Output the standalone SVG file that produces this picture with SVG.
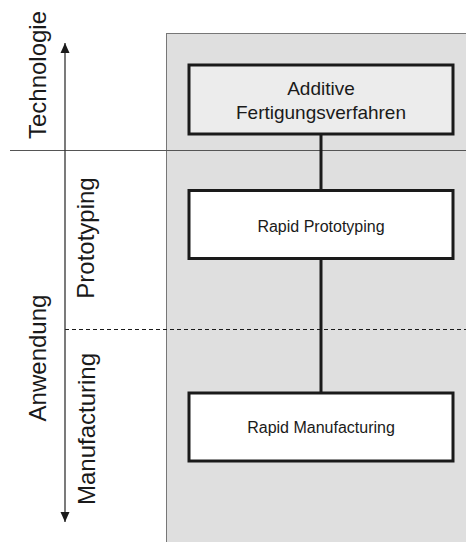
<svg xmlns="http://www.w3.org/2000/svg" width="466" height="542" viewBox="0 0 466 542">
<style>
  .lbl { font-family: "Liberation Sans", Arial, sans-serif; fill: #1a1a1a; }
  .side { font-size: 24px; text-anchor: middle; }
  .box { stroke: #1a1a1a; stroke-width: 3; }
  .btext { font-size: 16px; text-anchor: middle; }
  .conn { stroke: #1a1a1a; stroke-width: 3; fill: none; }
</style>
<defs>
  <marker id="ah" viewBox="0 0 10 14" refX="10" refY="7" markerWidth="10" markerHeight="14" markerUnits="userSpaceOnUse" orient="auto">
    <path d="M0,2.5 L10,7 L0,11.5 Z" fill="#1a1a1a"/>
  </marker>
</defs>
<rect id="panel" x="166.5" y="33.5" width="310" height="520" fill="#dfdfdf" stroke="#777" stroke-width="1"/>
<line x1="10" y1="150.5" x2="466" y2="150.5" stroke="#555" stroke-width="1"/>
<line x1="65" y1="329.5" x2="466" y2="329.5" stroke="#1a1a1a" stroke-width="1" stroke-dasharray="4,3"/>
<line x1="65" y1="282" x2="65" y2="43" stroke="#333" stroke-width="1.3" marker-end="url(#ah)"/>
<line x1="65" y1="282" x2="65" y2="522" stroke="#333" stroke-width="1.3" marker-end="url(#ah)"/>
<text class="lbl side" transform="translate(46,75) rotate(-90)">Technologie</text>
<text class="lbl side" transform="translate(46,358) rotate(-90)">Anwendung</text>
<text class="lbl side" transform="translate(94,238) rotate(-90)">Prototyping</text>
<text class="lbl side" transform="translate(95,429) rotate(-90)">Manufacturing</text>
<g id="connectors">
  <line class="conn" x1="321" y1="135" x2="321" y2="190"/>
  <line class="conn" x1="321" y1="259" x2="321" y2="393"/>
</g>
<g id="additive">
  <rect class="box" x="189" y="65" width="264" height="69" fill="#ececec"/>
  <text class="lbl" x="321" y="95" font-size="19" text-anchor="middle">Additive</text>
  <text class="lbl" x="321" y="119" font-size="19" text-anchor="middle">Fertigungsverfahren</text>
</g>
<g id="rapid-prototyping">
  <rect class="box" x="189" y="190.5" width="264" height="68" fill="#ffffff"/>
  <text class="lbl btext" x="321" y="232">Rapid Prototyping</text>
</g>
<g id="rapid-manufacturing">
  <rect class="box" x="189" y="393" width="264" height="68" fill="#ffffff"/>
  <text class="lbl btext" x="321" y="433">Rapid Manufacturing</text>
</g>
</svg>
